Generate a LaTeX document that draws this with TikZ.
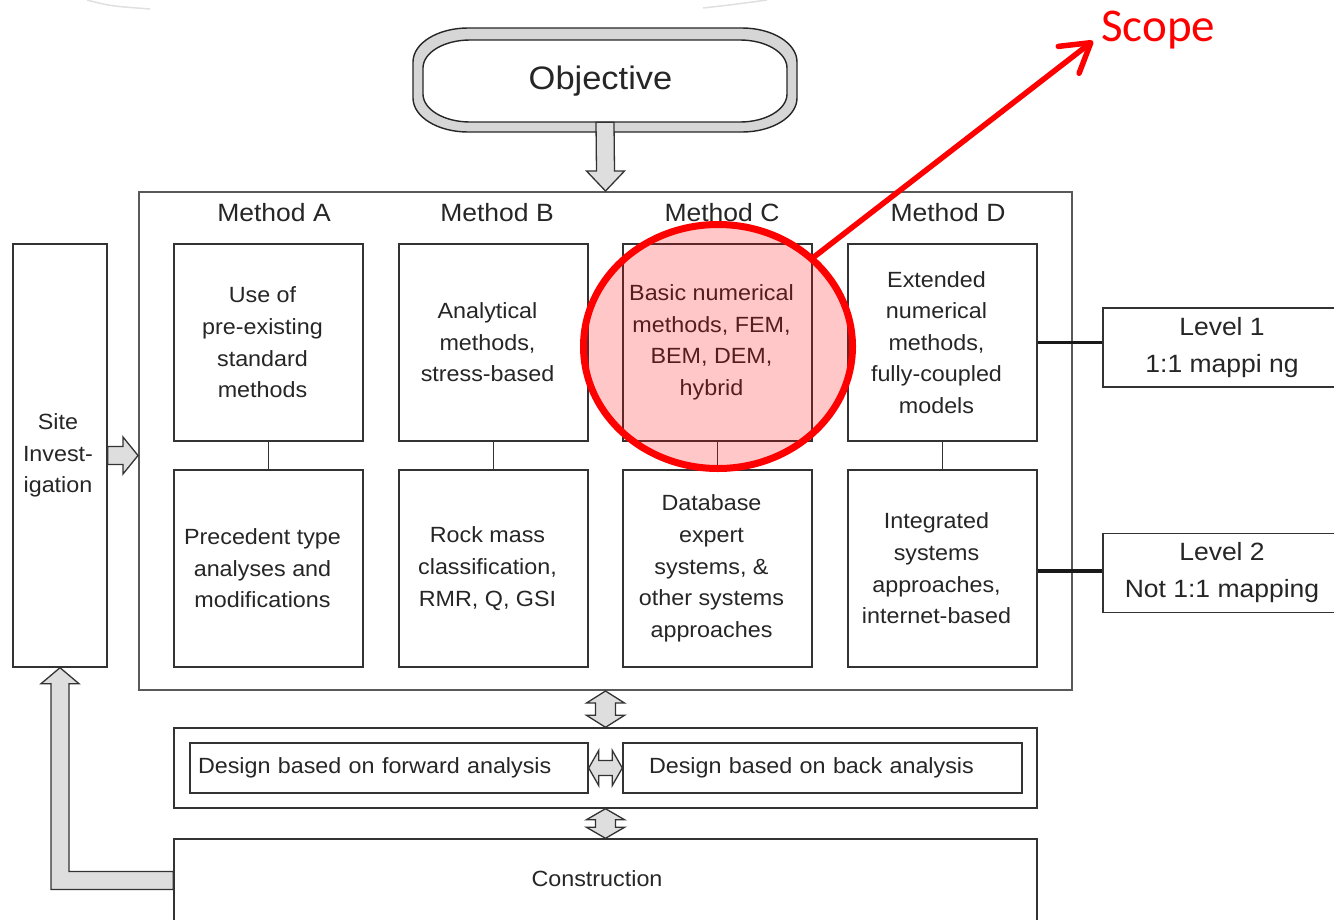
\documentclass[tikz,border=0pt]{standalone}
\usepackage{fontspec}
\setmainfont[FakeStretch=1.06]{Liberation Sans}
\newfontfamily\scopefont{Carlito}
\usetikzlibrary{calc,arrows.meta,shapes.geometric}
\newcommand{\myBody}{\fontsize{22}{31.6}\selectfont}
\newcommand{\myLab}{\fontsize{25}{30}\selectfont}
\newcommand{\myLev}{\fontsize{25}{37}\selectfont}
\begin{document}
\begin{tikzpicture}[x=1pt,y=-1pt,
  mainbox/.style={draw=black!65, line width=2pt, minimum width=933pt, minimum height=498pt, inner sep=0pt},
  mbox/.style={draw=black!80, line width=1.4pt, fill=white, minimum width=189pt, minimum height=197pt, inner sep=0pt},
  mtext/.style={font=\myBody, text=black!85, align=center, inner sep=0pt, xshift=-6pt},
  mlabel/.style={font=\myLab, text=black!85, inner sep=0pt},
  sitebox/.style={draw=black!80, line width=1.4pt, minimum width=94pt, minimum height=423pt, inner sep=0pt, align=center, font=\myBody, text=black!85},
  widebox/.style={draw=black!80, line width=1.4pt, minimum width=863pt, inner sep=0pt, align=center, font=\myBody, text=black!85},
  levbox/.style={draw=black!80, line width=1.4pt, fill=white, minimum width=238pt, minimum height=79pt, inner sep=0pt, align=center, font=\myLev, text=black!85},
  blk/.style={draw=black!80, fill=black!13, line width=1.3pt, line join=miter},
  link/.style={draw=black!80, line width=1.4pt},
  thick link/.style={draw=black!90, line width=3.5pt}
]
\useasboundingbox (0,0) rectangle (1334,919);
\fill[white] (0,0) rectangle (1334,919);
\clip (0,0) rectangle (1334,919);

% faint remnants at top
\draw[black!12, line width=1.5pt] (87,0) .. controls (110,6) .. (150,9);
\draw[black!12, line width=1.5pt] (703,8) .. controls (730,5) .. (767,0);

% Objective
\draw[draw=black!85, line width=1.4pt, fill=black!16] (468,28) -- (742,28) arc[start angle=90,end angle=0,x radius=55pt,y radius=34pt] -- (797,98) arc[start angle=0,end angle=-90,x radius=55pt,y radius=34pt] -- (468,132) arc[start angle=-90,end angle=-180,x radius=55pt,y radius=34pt] -- (413,62) arc[start angle=180,end angle=90,x radius=55pt,y radius=34pt] -- cycle;
\draw[draw=black!85, line width=1.4pt, fill=white] (470,40) -- (740,40) arc[start angle=90,end angle=0,x radius=47pt,y radius=28pt] -- (787,94) arc[start angle=0,end angle=-90,x radius=47pt,y radius=28pt] -- (470,122) arc[start angle=-90,end angle=-180,x radius=47pt,y radius=28pt] -- (423,68) arc[start angle=180,end angle=90,x radius=47pt,y radius=28pt] -- cycle;
\node[minimum width=364pt, minimum height=82pt, inner sep=0pt, font=\fontsize{32.5}{36}\selectfont, text=black!85] (obj) at (605,81) {\hspace*{-9pt}Objective};

% main frame
\node[mainbox] (main) at (605.5,441) {};

% method labels
\node[mlabel] (labA) at (274,213) {Method A};
\node[mlabel] (labB) at (497,213) {Method B};
\node[mlabel] (labC) at (722,213) {Method C};
\node[mlabel] (labD) at (948,213) {Method D};

% method boxes
\node[mbox, label={[mtext]center:{Use of\\pre-existing\\standard\\methods}}] (atop) at (268.5,342.5) {};
\node[mbox, label={[mtext]center:{Analytical\\methods,\\stress-based}}] (btop) at (493.5,342.5) {};
\node[mbox, label={[mtext]center:{Basic numerical\\methods, FEM,\\BEM, DEM,\\hybrid}}] (ctop) at (717.5,342.5) {};
\node[mbox, label={[mtext]center:{Extended\\numerical\\methods,\\fully-coupled\\models}}] (dtop) at (942.5,342.5) {};
\node[mbox, label={[mtext]center:{Precedent type\\analyses and\\modifications}}] (abot) at (268.5,568.5) {};
\node[mbox, label={[mtext]center:{Rock mass\\classification,\\RMR, Q, GSI}}] (bbot) at (493.5,568.5) {};
\node[mbox, label={[mtext]center:{Database\\expert\\systems, \&\\other systems\\approaches}}] (cbot) at (717.5,568.5) {};
\node[mbox, label={[mtext]center:{Integrated\\systems\\approaches,\\internet-based}}] (dbot) at (942.5,568.5) {};

\draw[link] (atop.south) -- (abot.north);
\draw[link] (btop.south) -- (bbot.north);
\draw[link] (ctop.south) -- (cbot.north);
\draw[link] (dtop.south) -- (dbot.north);

% site investigation
\node[sitebox] (site) at (60,455.5) {\hspace*{-4pt}Site\\\hspace*{-4pt}Invest-\\\hspace*{-4pt}igation};

% levels
\node[levbox] (lev1) at (1222,347.5) {Level 1\\1:1 mappi ng};
\node[levbox] (lev2) at (1222,573) {Level 2\\Not 1:1 mapping};
\draw[thick link] (dtop.east) -- (dtop.east -| lev1.west);
\draw[thick link] ($(dbot.east)+(0,2.5)$) -- ($(dbot.east -| lev2.west)+(0,2.5)$);

% design boxes
\node[widebox, minimum height=80pt] (design) at (605.5,768) {};
\node[draw=black!80, line width=1.4pt, text width=382pt, inner xsep=8pt, inner ysep=0pt, minimum height=50pt, align=left, font=\myBody, text=black!85] (fwd) at (389,768) {Design based on forward analysis};
\node[draw=black!80, line width=1.4pt, text width=347pt, inner xsep=26pt, inner ysep=0pt, minimum height=50pt, align=left, font=\myBody, text=black!85] (back) at (822.5,768) {Design based on back analysis};

% construction
\node[widebox, minimum height=83pt] (constr) at (605.5,880.5) {};
\node[font=\myBody, text=black!85, inner sep=0pt] (constrlab) at (597,879) {Construction};

% block arrows
\draw[blk] ($(obj.south)+(-9,0)$) -- ($(obj.south)+(9,0)$) -- ($(main.north)+(9,-20)$) -- ($(main.north)+(19,-20)$) -- (main.north) -- ($(main.north)+(-19,-20)$) -- ($(main.north)+(-9,-20)$) -- cycle;

\coordinate (siteE) at (site.east -| main.west);
\draw[blk] ($(site.east)+(0,-9)$) -- ($(siteE)+(-15,-9)$) -- ($(siteE)+(-15,-18.5)$) -- (siteE) -- ($(siteE)+(-15,18.5)$) -- ($(siteE)+(-15,9)$) -- ($(site.east)+(0,9)$) -- cycle;

\draw[blk] (main.south) -- ($(main.south)+(19,12)$) -- ($(main.south)+(10,12)$) -- ($(design.north)+(10,-12)$) -- ($(design.north)+(19,-12)$) -- (design.north) -- ($(design.north)+(-19,-12)$) -- ($(design.north)+(-10,-12)$) -- ($(main.south)+(-10,12)$) -- ($(main.south)+(-19,12)$) -- cycle;

\draw[blk] (design.south) -- ($(design.south)+(19,11)$) -- ($(design.south)+(10,11)$) -- ($(constr.north)+(10,-11)$) -- ($(constr.north)+(19,-11)$) -- (constr.north) -- ($(constr.north)+(-19,-11)$) -- ($(constr.north)+(-10,-11)$) -- ($(design.south)+(-10,11)$) -- ($(design.south)+(-19,11)$) -- cycle;

\draw[blk] (fwd.east) -- ($(fwd.east)+(10,-17.5)$) -- ($(fwd.east)+(10,-7.5)$) -- ($(back.west)+(-10,-7.5)$) -- ($(back.west)+(-10,-17.5)$) -- (back.west) -- ($(back.west)+(-10,17.5)$) -- ($(back.west)+(-10,7.5)$) -- ($(fwd.east)+(10,7.5)$) -- ($(fwd.east)+(10,17.5)$) -- cycle;

\coordinate (fbI) at ($(constr.west)+(0,-9)$);
\coordinate (fbO) at ($(constr.west)+(0,9)$);
\coordinate (sI) at ($(site.south)+(9,0)$);
\coordinate (sO) at ($(site.south)+(-9,0)$);
\draw[blk] (fbI) -- (sI |- fbI) -- ($(sI)+(0,16)$) -- ($(site.south)+(19,16)$) -- (site.south) -- ($(site.south)+(-19,16)$) -- ($(sO)+(0,16)$) -- (sO |- fbO) -- (fbO) -- cycle;

% scope highlight
\node[ellipse, draw=red, line width=7pt, fill=red, fill opacity=0.22, minimum width=269pt, minimum height=244pt, inner sep=0pt] (scope) at (718,346.5) {};
\coordinate (scopetip) at (1093,41);
\node[anchor=base west, inner sep=0pt, text=red, font=\scopefont\fontsize{47}{50}\selectfont] (scopelab) at (1101,41) {Scope};
\draw[red, line width=5.5pt, line cap=round, -{Straight Barb[length=28pt,width=34pt,round]}] (scope.43) -- (scopetip);
\end{tikzpicture}
\end{document}
